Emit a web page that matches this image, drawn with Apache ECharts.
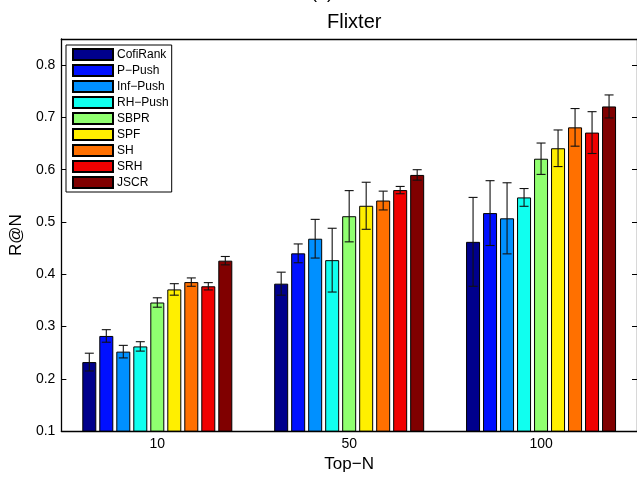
<!DOCTYPE html>
<html><head><meta charset="utf-8">
<script src="https://cdn.jsdelivr.net/npm/echarts@6/dist/echarts.min.js"></script>
<style>html,body{margin:0;padding:0;background:#fff}#c{width:637px;height:478px}</style>
</head><body><div id="c"></div>
<script>
const categories = ['10', '50', '100'];
const methods = ['CofiRank', 'P\u2212Push', 'Inf\u2212Push', 'RH\u2212Push', 'SBPR', 'SPF', 'SH', 'SRH', 'JSCR'];
const colors = ['#00008c', '#0010ff', '#0090ff', '#10ffef', '#90ff70', '#ffef00', '#ff7000', '#f00000', '#800000'];
const yTicks = [0.1, 0.2, 0.3, 0.4, 0.5, 0.6, 0.7, 0.8];

const cofiRank = [0.232, 0.382, 0.462];
const pPush    = [0.282, 0.440, 0.517];
const infPush  = [0.252, 0.468, 0.507];
const rhPush   = [0.262, 0.427, 0.547];
const sbpr     = [0.346, 0.511, 0.621];
const spf      = [0.371, 0.531, 0.641];
const sh       = [0.385, 0.541, 0.681];
const srh      = [0.377, 0.561, 0.671];
const jscr     = [0.426, 0.590, 0.721];

const cofiRankErr = [0.017, 0.022, 0.085];
const pPushErr    = [0.012, 0.018, 0.062];
const infPushErr  = [0.012, 0.037, 0.068];
const rhPushErr   = [0.009, 0.061, 0.017];
const sbprErr     = [0.009, 0.049, 0.030];
const spfErr      = [0.011, 0.045, 0.035];
const shErr       = [0.008, 0.018, 0.036];
const srhErr      = [0.007, 0.007, 0.040];
const jscrErr     = [0.008, 0.010, 0.022];

const values = [cofiRank, pPush, infPush, rhPush, sbpr, spf, sh, srh, jscr];
const errors = [cofiRankErr, pPushErr, infPushErr, rhPushErr, sbprErr, spfErr, shErr, srhErr, jscrErr];

const FONT = '"Liberation Sans", Arial, Helvetica, sans-serif';
const BAR_W = 14, BAR_GAP = 3, PITCH = BAR_W + BAR_GAP;

const series = [];
methods.forEach((m, k) => {
  series.push({
    name: m, type: 'bar', xAxisIndex: 0, yAxisIndex: 0,
    barWidth: BAR_W, barGap: (BAR_GAP / BAR_W * 100).toFixed(2) + '%',
    itemStyle: { color: colors[k], borderColor: '#000', borderWidth: 1 },
    data: values[k], z: 2
  });
});
methods.forEach((m, k) => {
  series.push({
    name: 'err_' + k, type: 'custom', xAxisIndex: 0, yAxisIndex: 0, z: 5,
    encode: { x: 0, y: 1 },
    data: values[k].map((v, i) => [i, v, errors[k][i]]),
    renderItem: (params, api) => {
      const ci = api.value(0), v = api.value(1), e = api.value(2);
      const t = api.coord([ci, v + e]);
      const b = api.coord([ci, v - e]);
      const x = t[0] + (k - 4) * PITCH;
      const hw = 4.5;
      const st = { stroke: '#111', lineWidth: 1.1 };
      return { type: 'group', children: [
        { type: 'line', shape: { x1: x, y1: t[1], x2: x, y2: b[1] }, style: st },
        { type: 'line', shape: { x1: x - hw, y1: t[1], x2: x + hw, y2: t[1] }, style: st },
        { type: 'line', shape: { x1: x - hw, y1: b[1], x2: x + hw, y2: b[1] }, style: st }
      ]};
    }
  });
});

const axisLineStyle = { lineStyle: { color: '#000', width: 1.3 } };
const chart = echarts.init(document.getElementById('c'), null, { renderer: 'canvas' });
chart.setOption({
  animation: false,
  backgroundColor: '#fff',
  textStyle: { fontFamily: FONT },
  title: {
    text: 'Flixter', left: 322, top: 7,
    textStyle: { fontFamily: FONT, fontSize: 20, fontWeight: 'normal', color: '#000' }
  },
  graphic: [{
    type: 'text', x: 322, y: 2,
    style: { text: '(a)', fontFamily: FONT, fontSize: 18, fill: '#000', textAlign: 'center', textVerticalAlign: 'bottom' }
  }],
  grid: { left: 58, top: 39, width: 583, height: 397, containLabel: false },
  legend: {
    data: methods, orient: 'vertical', left: 66, top: 45,
    icon: 'rect', itemWidth: 40, itemHeight: 11, itemGap: 3,
    padding: [3, 3, 3, 6],
    backgroundColor: '#fff', borderColor: '#000', borderWidth: 1, borderRadius: 0,
    textStyle: { fontFamily: FONT, fontSize: 12, color: '#000', lineHeight: 11, padding: [0, 0, 0, -1] },
    selectedMode: false
  },
  xAxis: [{
    type: 'category', data: categories, position: 'bottom',
    name: 'Top\u2212N', nameLocation: 'middle', nameGap: 22,
    nameTextStyle: { fontFamily: FONT, fontSize: 17, color: '#000' },
    axisLine: axisLineStyle,
    axisTick: { inside: true, alignWithLabel: true, length: 5, lineStyle: { color: '#000' } },
    axisLabel: { fontFamily: FONT, fontSize: 14, color: '#000', margin: 6 },
    splitLine: { show: false }
  }, {
    type: 'category', data: categories, position: 'top',
    axisLine: axisLineStyle,
    axisTick: { inside: true, alignWithLabel: true, length: 5, lineStyle: { color: '#000' } },
    axisLabel: { show: false }, splitLine: { show: false }
  }],
  yAxis: [{
    type: 'value', min: 0.1, max: 0.85, interval: 0.1, position: 'left',
    name: 'R@N', nameLocation: 'middle', nameGap: 30, nameRotate: 90,
    nameTextStyle: { fontFamily: FONT, fontSize: 17, color: '#000' },
    axisLine: { show: true, ...axisLineStyle },
    axisTick: { show: true, inside: true, length: 5, lineStyle: { color: '#000' } },
    axisLabel: { fontFamily: FONT, fontSize: 14, color: '#000', margin: 6, showMaxLabel: false,
      formatter: v => (yTicks.some(t => Math.abs(t - v) < 1e-6) ? v.toFixed(1) : '') },
    splitLine: { show: false }
  }, {
    type: 'value', min: 0.1, max: 0.85, interval: 0.1, position: 'right',
    axisLine: { show: true, ...axisLineStyle },
    axisTick: { show: true, inside: true, length: 5, lineStyle: { color: '#000' } },
    axisLabel: { show: false }, splitLine: { show: false }
  }],
  series: series
});
</script>
</body></html>
